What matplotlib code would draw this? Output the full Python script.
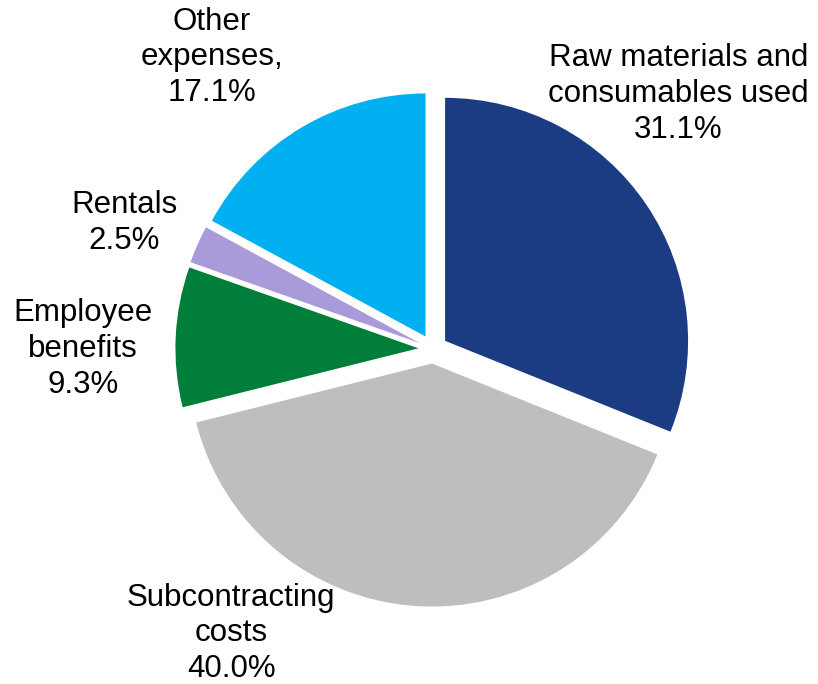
import matplotlib as mpl
mpl.use('Agg')
mpl.rcParams['font.family'] = ['Liberation Sans', 'DejaVu Sans']
import matplotlib.pyplot as plt

# Cost breakdown (% of total expenses)
categories = ['Raw materials and\nconsumables used', 'Subcontracting\ncosts',
              'Employee\nbenefits', 'Rentals', 'Other\nexpenses,']
shares = [31.1, 40.0, 9.3, 2.5, 17.1]
colors = ['#1B3C83', '#BEBEBE', '#007E3A', '#A99BDA', '#00B0F0']

# label anchor positions (axes units, radius = 1)
label_pos = [(1.01, 1.05), (-0.83, -1.17), (-1.44, 0.0), (-1.27, 0.52), (-0.91, 1.20)]

R_PX = 243.0
CX, CY = 433.0, 349.0
W, H = 818, 684

fig = plt.figure(figsize=(W / 100, H / 100), dpi=100)
ax = fig.add_axes([0, 0, 1, 1])

ax.pie(shares, colors=colors, startangle=90, counterclock=False,
       explode=[0.06] * len(shares), radius=1.0,
       wedgeprops=dict(linewidth=0))

for name, val, (x, y) in zip(categories, shares, label_pos):
    ax.text(x, y, '%s\n%.1f%%' % (name, val), ha='center', va='center',
            fontsize=22.5, linespacing=1.25, color='black')

ax.set_xlim(-CX / R_PX, (W - CX) / R_PX)
ax.set_ylim(-(H - CY) / R_PX, CY / R_PX)
ax.set_aspect('equal')
ax.axis('off')

fig.savefig('out.png', dpi=100)
